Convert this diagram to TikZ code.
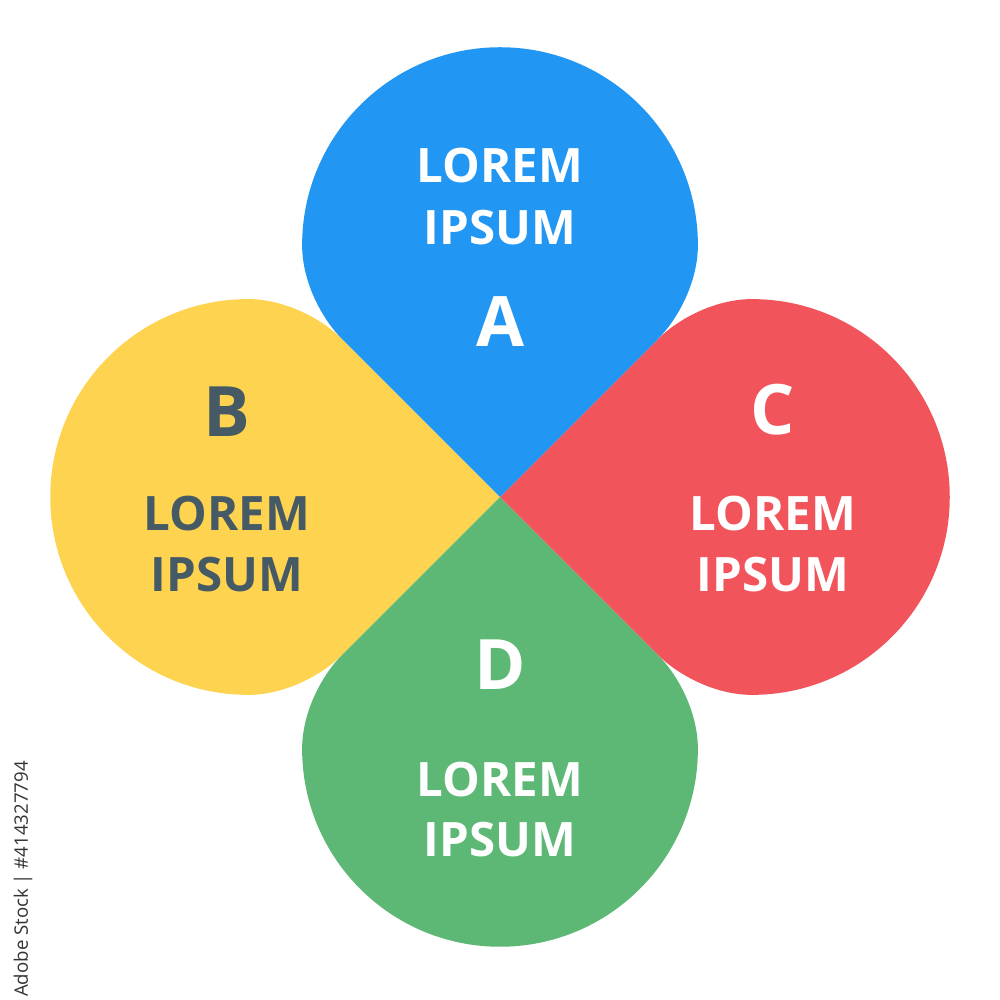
\documentclass[tikz,border=0pt]{standalone}
\usepackage{fontspec}
\setmainfont{Open Sans}
\newfontfamily\stockfont{Open Sans}
\definecolor{cblue}{RGB}{33,150,243}
\definecolor{cred}{RGB}{242,84,91}
\definecolor{cgreen}{RGB}{92,184,116}
\definecolor{cyellow}{RGB}{253,211,80}
\definecolor{cslate}{RGB}{69,90,100}
\definecolor{cstock}{RGB}{51,51,51}
\newcommand\petalshape[3]{%
  \begin{scope}[x=0.01cm,y=0.01cm,shift={(5cm,5.03cm)},rotate=#2]
    \fill[#1] (0,0) -- (-158,158) .. controls (-178,178) and (-198,215) .. (-198,252)
      arc[start angle=180,end angle=0,radius=198]
      .. controls (198,215) and (178,178) .. (158,158) -- cycle;
    \coordinate (#3) at (0,252);
  \end{scope}}
\tikzset{
  lbl/.style={inner sep=0pt,font=\bfseries\fontsize{13.5pt}{16pt}\selectfont,text=white},
  letter/.style={inner sep=0pt,font=\bfseries\fontsize{19.8pt}{24pt}\selectfont,text=white}
}
\begin{document}
\begin{tikzpicture}
\useasboundingbox (0,0) rectangle (10,10);
\fill[white] (0,0) rectangle (10,10);
\petalshape{cyellow}{90}{pB}
\petalshape{cgreen}{180}{pD}
\petalshape{cred}{270}{pC}
\petalshape{cblue}{0}{pA}
% A
\node[lbl] (aL) at (5,8.34) {LOREM};
\node[lbl] (aI) at (5,7.72) {IPSUM};
\node[letter] (aA) at (5,6.78) {A};
% B
\node[letter,text=cslate] (bB) at (2.27,5.88) {B};
\node[lbl,text=cslate] (bL) at (2.27,4.86) {LOREM};
\node[lbl,text=cslate] (bI) at (2.27,4.25) {IPSUM};
% C
\node[letter] (cC) at (7.73,5.90) {C};
\node[lbl] (cL) at (7.73,4.86) {LOREM};
\node[lbl] (cI) at (7.73,4.25) {IPSUM};
% D
\node[letter] (dD) at (5,3.35) {D};
\node[lbl] (dL) at (5,2.20) {LOREM};
\node[lbl] (dI) at (5,1.60) {IPSUM};
% stock id
\node[inner sep=0pt,rotate=90,text=cstock,font=\stockfont\fontsize{5.3pt}{7pt}\selectfont] (stock) at (0.23,1.21) {Adobe Stock | \#414327794};
\end{tikzpicture}
\end{document}
